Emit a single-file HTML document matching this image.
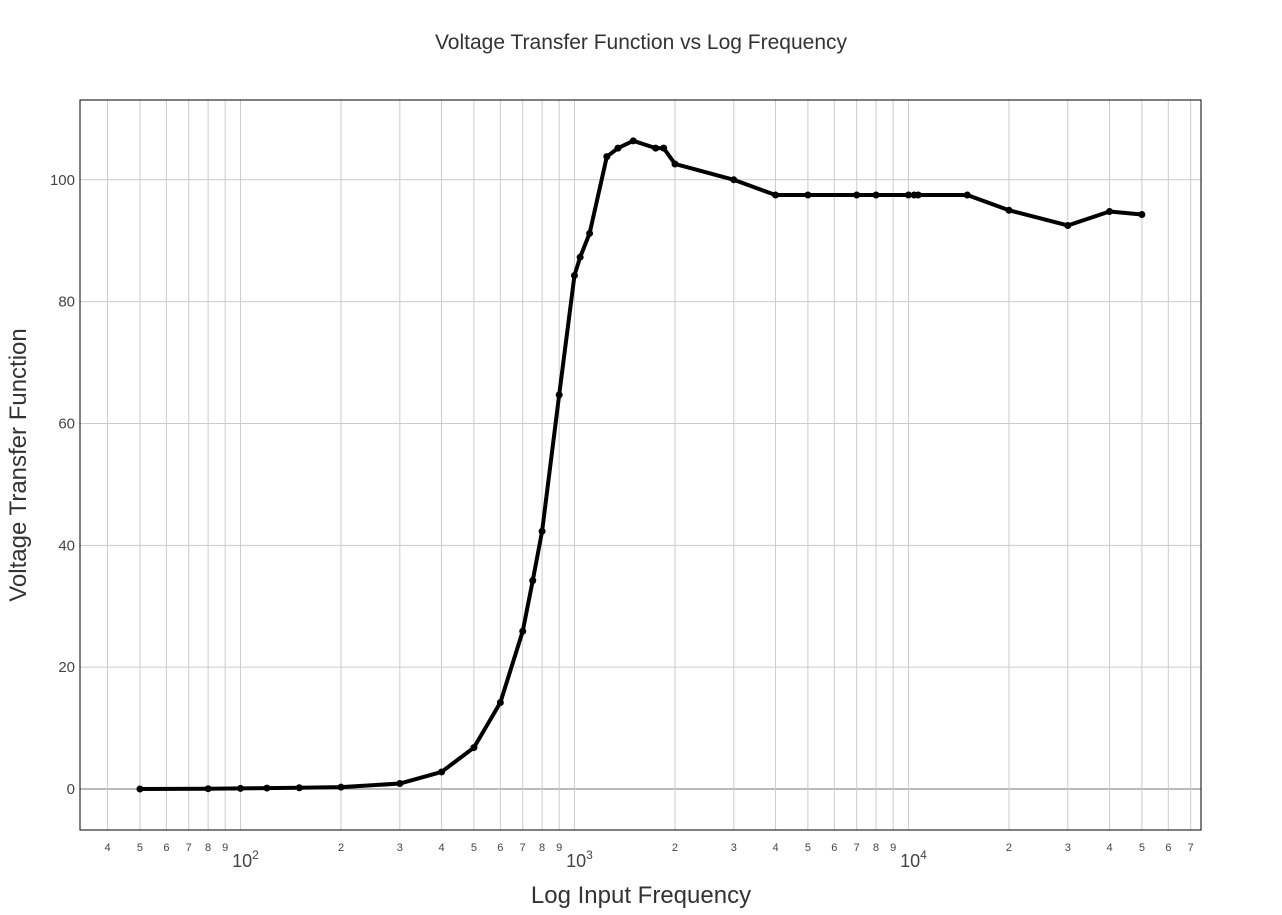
<!DOCTYPE html>
<html><head><meta charset="utf-8"><style>
body{margin:0;background:#fff;font-family:"Liberation Sans",sans-serif}
text{font-family:"Liberation Sans",sans-serif}
</style></head><body>
<svg id="chart" width="1282" height="910" xmlns="http://www.w3.org/2000/svg">
<text x="641" y="49" text-anchor="middle" font-size="21" fill="#333">Voltage Transfer Function vs Log Frequency</text>
<g id="grid"></g>
<g id="ticks"></g>
<rect x="80" y="100" width="1121" height="730" fill="none" stroke="#000" stroke-width="1"/>
<g id="series"></g>
<text x="641" y="903" text-anchor="middle" font-size="24" fill="#333">Log Input Frequency</text>
<text transform="translate(26,465) rotate(-90)" text-anchor="middle" font-size="24" fill="#333">Voltage Transfer Function</text>
</svg>
<script>
const freqs=[50,80,100,120,150,200,300,400,500,600,700,750,800,900,1000,1040,1110,1250,1350,1500,1750,1850,2000,3000,4000,5000,7000,8000,10000,10400,10700,15000,20000,30000,40000,50000];
const vtf=[0,0.05,0.1,0.15,0.2,0.3,0.9,2.8,6.8,14.2,25.9,34.2,42.3,64.7,84.3,87.3,91.2,103.8,105.2,106.4,105.2,105.2,102.6,100,97.5,97.5,97.5,97.5,97.5,97.5,97.5,97.5,95,92.5,94.8,94.3];
const yTicks=[0,20,40,60,80,100];
const xMinorDigits=[2,3,4,5,6,7,8,9];
const decades=[1,2,3,4];
const NS="http://www.w3.org/2000/svg";
const L=80,R=1201,T=100,B=830,lmin=1.5195,lmax=4.876,ymin=-6.73,ymax=113.1;
const X=v=>L+(Math.log10(v)-lmin)/(lmax-lmin)*(R-L);
const Y=v=>B-(v-ymin)/(ymax-ymin)*(B-T);
function mk(t,a,p){const e=document.createElementNS(NS,t);for(const k in a)e.setAttribute(k,a[k]);p.appendChild(e);return e;}
const grid=document.getElementById('grid'),ticks=document.getElementById('ticks'),ser=document.getElementById('series');
yTicks.forEach(v=>{
 const l=mk('line',{x1:L,x2:R,y1:Y(v),y2:Y(v),stroke:v===0?'#777':'#ccc','stroke-width':1},grid);
 
 
 const t=mk('text',{x:L-5,y:Y(v)+5,'text-anchor':'end','font-size':15,fill:'#444'},ticks);t.textContent=v;
 
 
});
decades.forEach(d=>{
 [1].concat(xMinorDigits).forEach(m=>{
  const v=m*Math.pow(10,d);const x=X(v);if(x<L||x>R)return;
  const l=mk('line',{x1:x,x2:x,y1:T,y2:B,stroke:'#ccc','stroke-width':1},grid);
  
  
  if(m===1){
   const t=mk('text',{x:x+5,y:867,'text-anchor':'middle','font-size':18,fill:'#444'},ticks);
   t.innerHTML='10<tspan dy="-8" font-size="12">'+d+'</tspan>';
   
   
  }else{
   const t=mk('text',{x:x,y:851,'text-anchor':'middle','font-size':11,fill:'#444'},ticks);t.textContent=m;
   
   
  }
 });
});
const pts=freqs.map((f,i)=>X(f)+','+Y(vtf[i])).join(' ');
const pl=mk('polyline',{points:pts,fill:'none',stroke:'#000','stroke-width':4,'stroke-linejoin':'round'},ser);


freqs.forEach((f,i)=>{
 const c=mk('circle',{cx:X(f),cy:Y(vtf[i]),r:3.5,fill:'#000'},ser);
 
 
});
</script>
</body></html>
